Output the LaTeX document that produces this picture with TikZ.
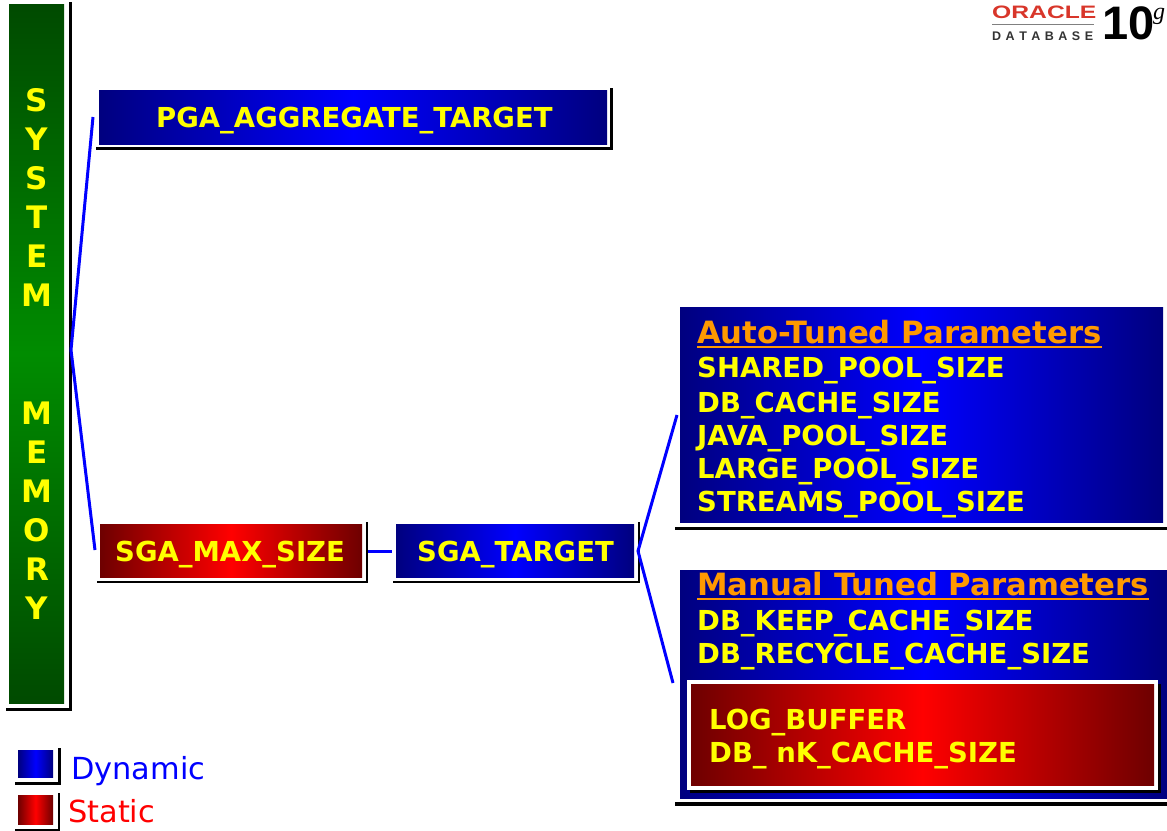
\documentclass[tikz,border=0pt]{standalone}
\usepackage{fontspec}
\setmainfont{DejaVu Sans}
\newfontfamily\logofont{Liberation Sans}
\newfontfamily\logoserif{Liberation Serif}
\usetikzlibrary{calc}
\definecolor{navy}{HTML}{00007F}
\definecolor{brightblue}{HTML}{0000FF}
\definecolor{darkred}{HTML}{6E0000}
\definecolor{darkgreen}{HTML}{004A00}
\definecolor{midgreen}{HTML}{008C00}
\definecolor{labelyellow}{HTML}{FFFF00}
\definecolor{titleorange}{HTML}{FF9900}
\definecolor{oraclered}{HTML}{D8362A}
\pgfdeclarehorizontalshading{bluegrad}{100bp}{color(0bp)=(navy);color(25bp)=(navy);color(50bp)=(brightblue);color(75bp)=(navy);color(100bp)=(navy)}
\pgfdeclarehorizontalshading{redgrad}{100bp}{color(0bp)=(darkred);color(25bp)=(darkred);color(50bp)=(red);color(75bp)=(darkred);color(100bp)=(darkred)}
\pgfdeclareverticalshading{greengrad}{100bp}{color(0bp)=(darkgreen);color(25bp)=(darkgreen);color(50bp)=(midgreen);color(75bp)=(darkgreen);color(100bp)=(darkgreen)}
\tikzset{
  x=1pt,y=-1pt,
  panel/.style={anchor=north west,inner sep=0pt,outer sep=0pt},
  bluepanel/.style={panel,shade,shading=bluegrad},
  redpanel/.style={panel,shade,shading=redgrad},
  greenpanel/.style={panel,shade,shading=greengrad},
  shadowline/.style={draw=black,line width=2.3pt},
  heavyshadow/.style={draw=black,line width=3.2pt},
  link/.style={draw=brightblue,line width=3pt},
  param/.style={inner sep=0pt,anchor=base west,text=labelyellow,font=\fontsize{27.5}{30}\selectfont\bfseries},
  heading/.style={inner sep=0pt,anchor=base west,text=titleorange,font=\fontsize{30.7}{32}\selectfont\bfseries},
  headrule/.style={draw=titleorange,line width=2.4pt},
  legendtext/.style={inner sep=0pt,anchor=base west,font=\fontsize{30.4}{32}\selectfont},
}
\newcommand{\panelbox}[8]{% name style x1 y1 x2 y2 shadowgap shadowstyle
  \node[#2,minimum width=#5pt-#3pt,minimum height=#6pt-#4pt] (#1) at (#3,#4) {};
  \draw[#8] (#3-3,#6+#7) -- (#5+#7,#6+#7) -- (#5+#7,#4-2);
}
\begin{document}
\begin{tikzpicture}
\useasboundingbox (0,0) rectangle (1167,830);
% panels
\panelbox{sysbox}{greenpanel}{9}{4}{64}{703}{6.5}{heavyshadow}
\panelbox{pga}{bluepanel}{99}{90}{607}{144}{4.5}{shadowline}
\panelbox{sgamax}{redpanel}{100}{524}{362}{577}{5}{shadowline}
\panelbox{sgatarget}{bluepanel}{396}{524}{634}{577}{5}{shadowline}
% right panels run off the page
\node[bluepanel,minimum width=483pt,minimum height=215pt] (auto) at (680,307) {};
\draw[heavyshadow] (675,528.5) -- (1167,528.5);
\node[bluepanel,minimum width=487pt,minimum height=228pt] (manual) at (680,570) {};
\draw[heavyshadow] (675,804) -- (1167,804);
\fill[black] (690,684) rectangle (1161,793);
\node[panel,fill=white,minimum width=471pt,minimum height=110pt] (staticframe) at (687,680) {};
\node[redpanel,minimum width=463pt,minimum height=101pt] (staticbox) at (691,684) {};
% legend
\panelbox{legdyn}{bluepanel}{18}{750}{53}{777}{6.5}{shadowline}
\panelbox{legsta}{redpanel}{18}{795}{53}{824}{6}{shadowline}
% connectors
\coordinate (root) at (71,350);
\coordinate (pgaend) at (93,117);
\coordinate (sgaend) at (95,550);
\coordinate (tfork) at (638,551);
\coordinate (autoend) at (677,415);
\coordinate (manualend) at (673,683);
\coordinate (sgaright) at (368,551);
\coordinate (targetleft) at (392,551);
\draw[link] (pgaend) -- (root) -- (sgaend);
\draw[link] (sgaright) -- (targetleft);
\draw[link] (autoend) -- (tfork) -- (manualend);
% labels
\node[inner sep=0pt,anchor=center,align=center,text=labelyellow,font=\fontsize{31}{39.1}\selectfont\bfseries] (systext) at (37,354) {S\\Y\\S\\T\\E\\M\\~\\~\\M\\E\\M\\O\\R\\Y};
\node[param] (pgatext) at (156,127) {PGA\_AGGREGATE\_TARGET};
\node[param] (maxtext) at (115,561) {SGA\_MAX\_SIZE};
\node[param] (targettext) at (417,561) {SGA\_TARGET};
\node[heading] (autotitle) at (697,343) {Auto-Tuned Parameters};
\draw[headrule] ($(autotitle.base west)+(0,4)$) -- ($(autotitle.base east)+(0,4)$);
\node[param] (p1) at (697,377) {SHARED\_POOL\_SIZE};
\node[param] (p2) at (697,412) {DB\_CACHE\_SIZE};
\node[param] (p3) at (697,445) {JAVA\_POOL\_SIZE};
\node[param] (p4) at (697,478) {LARGE\_POOL\_SIZE};
\node[param] (p5) at (697,511) {STREAMS\_POOL\_SIZE};
\node[heading] (mantitle) at (697,595) {Manual Tuned Parameters};
\draw[headrule] ($(mantitle.base west)+(0,4)$) -- ($(mantitle.base east)+(0,4)$);
\node[param] (m1) at (697,630) {DB\_KEEP\_CACHE\_SIZE};
\node[param] (m2) at (697,663) {DB\_RECYCLE\_CACHE\_SIZE};
\node[param] (s1) at (709,729) {LOG\_BUFFER};
\node[param] (s2) at (709,762) {DB\_ nK\_CACHE\_SIZE};
\node[legendtext,text=brightblue] (dyn) at (71,779) {Dynamic};
\node[legendtext,text=red] (sta) at (68,822) {Static};
% logo
\node[inner sep=0pt,anchor=base west,text=oraclered,font=\logofont\bfseries\fontsize{18}{18}\selectfont] (orcl) at (992,18) {\scalebox{1.37}[1]{ORACLE}};
\draw[gray,line width=1pt] (992,24.5) -- (1094,24.5);
\node[inner sep=0pt,anchor=base west,text=black!80,font=\logofont\bfseries\fontsize{12.5}{12.5}\selectfont] (dbtext) at (992,40.5) {D\hspace{4.5pt}A\hspace{4.5pt}T\hspace{4.5pt}A\hspace{4.5pt}B\hspace{4.5pt}A\hspace{4.5pt}S\hspace{4.5pt}E};
\node[inner sep=0pt,anchor=base west,text=black,font=\logofont\bfseries\fontsize{47}{47}\selectfont] (ten) at (1102,39.5) {10};
\node[inner sep=0pt,anchor=base west,text=black,font=\logoserif\fontsize{24}{24}\selectfont\itshape] (gee) at (1153,19) {g};
\end{tikzpicture}
\end{document}
